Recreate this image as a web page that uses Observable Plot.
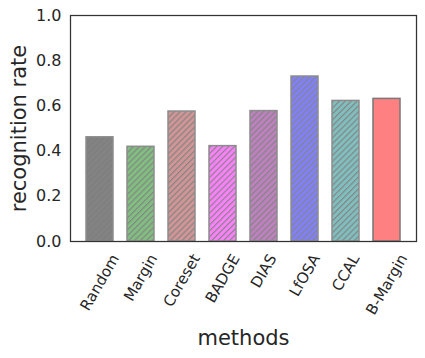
<!DOCTYPE html>
<html><head><meta charset="utf-8">
<script src="https://cdn.jsdelivr.net/npm/d3@7"></script>
<script src="https://cdn.jsdelivr.net/npm/@observablehq/plot@0.6"></script>
<style>body{margin:0;background:#fff}</style>
</head><body><div id="chart"></div>
<script>
const methods = ["Random","Margin","Coreset","BADGE","DIAS","LfOSA","CCAL","B-Margin"];
const rates = [0.461,0.419,0.575,0.422,0.577,0.730,0.622,0.631];
const fills = ["#808080","#80bf80","#d29595","#ff80ff","#bf80bf","#8080ff","#80bfbf","#ff8080"];
const hatched = [true,true,true,true,true,true,true,false];
const yTicks = [0,0.2,0.4,0.6,0.8,1.0];
const xLabel = "methods";
const yLabel = "recognition rate";

const data = methods.map((m,i)=>({method:m, rate:rates[i], fill:fills[i], hatch:hatched[i]}));
const xTickFs = 15;
const yTickFs = 16;

const plot = Plot.plot({
  width:425, height:358,
  marginLeft:70, marginRight:9, marginTop:15, marginBottom:117,
  style:{fontFamily:"'DejaVu Sans', sans-serif", fontSize:"16px", color:"#262626", background:"#fff", overflow:"visible"},
  x:{domain:methods, paddingInner:0.33, paddingOuter:0.3},
  y:{domain:[0,1]},
  marks:[
    Plot.barY(data,{x:"method", y:"rate", fill:"fill"}),
    Plot.barY(data.filter(d=>d.hatch),{x:"method", y:"rate", fill:"url(#hatch)", stroke:"#8c8c8c", strokeWidth:1.5}),
    Plot.barY(data.filter(d=>!d.hatch),{x:"method", y:"rate", fill:"none", stroke:"#777", strokeWidth:1.5}),
    Plot.axisY({ticks:yTicks, tickFormat:d=>d.toFixed(1), tickSize:0, tickPadding:9, label:null, fontSize:yTickFs, fill:"#262626"}),
    Plot.axisX({tickSize:0, tickRotate:-60, tickPadding:10, label:null, fontSize:xTickFs, fill:"#262626"}),
    Plot.text([xLabel],{frameAnchor:"bottom", dy:103, fontSize:21, fill:"#262626"}),
    Plot.text([yLabel],{frameAnchor:"left", textAnchor:"middle", dx:-51, rotate:-90, fontSize:21, fill:"#262626"}),
    Plot.frame({stroke:"#333", strokeWidth:1.25})
  ]
});

const ns = "http://www.w3.org/2000/svg";
const defs = document.createElementNS(ns,"defs");
defs.innerHTML = '<pattern id="hatch" patternUnits="userSpaceOnUse" width="4.2" height="4.2" patternTransform="rotate(45)"><line x1="0.6" y1="0" x2="0.6" y2="4.2" stroke="#858585" stroke-width="1.2"/></pattern>';
plot.insertBefore(defs, plot.firstChild);
document.getElementById("chart").appendChild(plot);

// matplotlib-style alignment of rotated tick labels: bbox centred on the band, top below axis
const xs = plot.scale("x");
const labelTop = 252;
const g = plot.querySelector('g[aria-label="x-axis tick label"]');
if (g) { g.removeAttribute("transform"); g.setAttribute("text-anchor","middle"); }
plot.querySelectorAll('g[aria-label="x-axis tick label"] text').forEach(t=>{
  const name = t.textContent;
  const x = xs.apply(name) + xs.bandwidth/2;
  const L = t.getComputedTextLength();
  const h = L*Math.sin(Math.PI/3) + xTickFs*0.9*Math.cos(Math.PI/3);
  const w = L*Math.cos(Math.PI/3) + xTickFs*0.9*Math.sin(Math.PI/3);
  t.setAttribute("text-anchor","middle");
  t.removeAttribute("y"); t.removeAttribute("x"); t.removeAttribute("dx");
  t.setAttribute("dy","0.35em");
  t.setAttribute("transform",`translate(${x},${labelTop + h/2}) rotate(-60)`);
});
</script>
</body></html>
